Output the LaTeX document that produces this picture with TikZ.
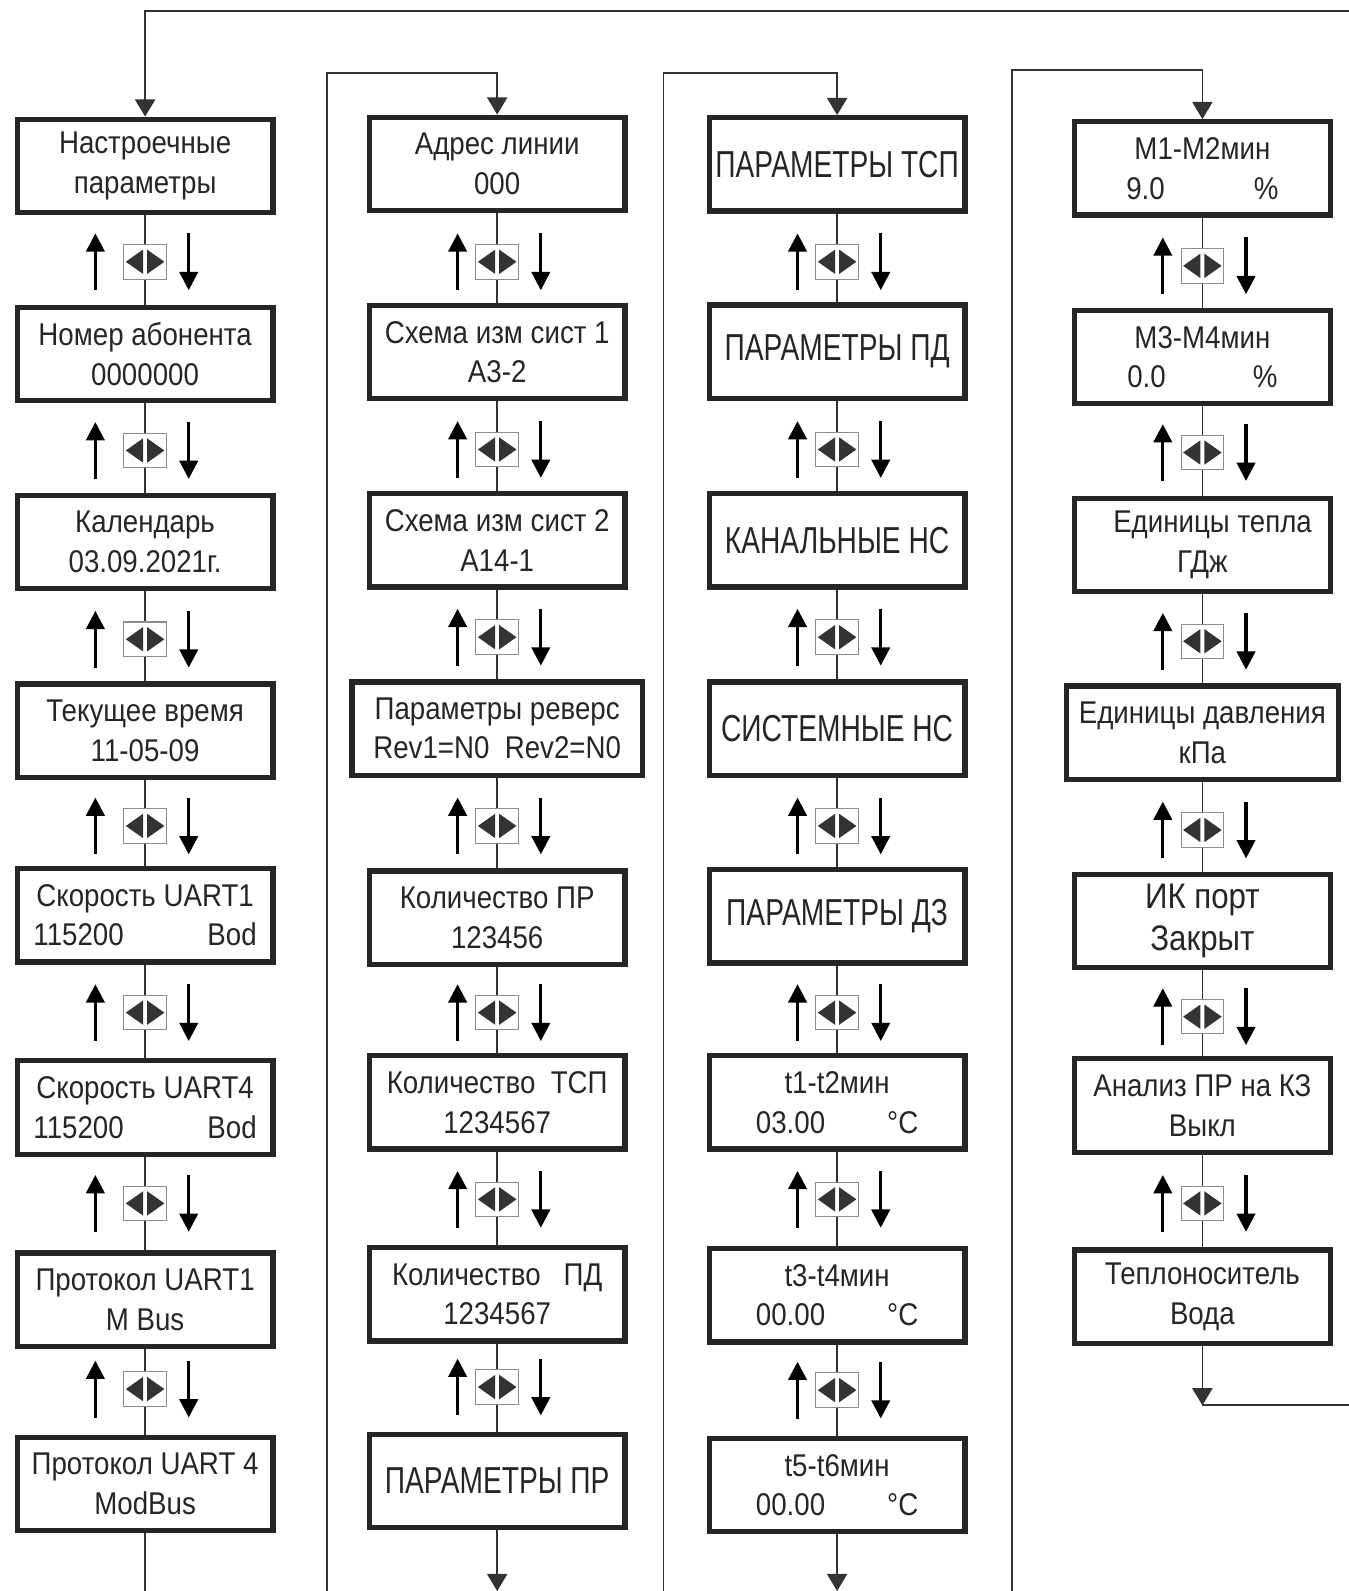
\documentclass[tikz,border=0pt]{standalone}
\usepackage{fontspec}
\setmainfont{Liberation Sans}[FakeStretch=0.88]
\newfontfamily\capsfont{Liberation Sans}[FakeStretch=0.75]
\usetikzlibrary{arrows.meta}

\begin{document}
\begin{tikzpicture}[x=0.5pt, y=-0.5pt,
  scr/.style={draw=black!85, line width=2.6pt, fill=white, text=black!85,
              minimum width=126pt, minimum height=46pt, inner sep=0pt,
              align=center, font=\fontsize{15.5}{19.5}\selectfont},
  caps/.style={scr, font=\capsfont\fontsize{18.5}{22}\selectfont},
  big/.style={scr, font=\fontsize{17.5}{21}\selectfont},
  link/.style={draw=black!80, line width=0.85pt},
  flow/.style={link, -{Triangle[length=8.5pt, width=10pt]}},
  updn/.style={line width=1.6pt, -{Triangle[length=9pt, width=9pt]}},
  keyframe/.style={draw=black!45, fill=white, line width=0.5pt},
  keytip/.style={fill=black!80},
  pics/keys/.style={code={
    \draw[keyframe] (-21,-17) rectangle (21,17);
    \fill[keytip] (-2,-12) -- (-2,12) -- (-19,0) -- cycle;
    \fill[keytip] (2,-12) -- (2,12) -- (19,0) -- cycle;
    \draw[updn] (#1,28) -- (#1,-28);
    \draw[updn] (43,-28) -- (43,28);
  }}]
\useasboundingbox (0,0) rectangle (1329,1568);

% column 1: setup parameters
\node[scr] (a1) at (143,163.5) {Настроечные\\параметры};
\node[scr] (a2) at (143,349)   {Номер абонента\\0000000};
\node[scr] (a3) at (143,534)   {Календарь\\03.09.2021г.};
\node[scr] (a4) at (143,720)   {Текущее время\\11-05-09};
\node[scr] (a5) at (143,902)   {Скорость UART1\\\makebox[110pt]{115200\hfill Bod}};
\node[scr] (a6) at (143,1091.5){Скорость UART4\\\makebox[110pt]{115200\hfill Bod}};
\node[scr] (a7) at (143,1281)  {Протокол UART1\\M Bus};
\node[scr] (a8) at (143,1462.5){Протокол UART 4\\ModBus};

% column 2: line and metering scheme
\node[scr] (b1) at (490,161.5) {Адрес линии\\000};
\node[scr] (b2) at (490,347)   {Схема изм сист 1\\A3-2};
\node[scr] (b3) at (490,532.5) {Схема изм сист 2\\A14-1};
\node[scr, minimum width=143pt] (b4) at (490,718) {Параметры реверс\\Rev1=N0\ \ Rev2=N0};
\node[scr] (b5) at (490,904.5) {Количество ПР\\123456};
\node[scr] (b6) at (490,1086.5){Количество\ \ ТСП\\1234567\hspace{14pt}};
\node[scr] (b7) at (490,1275.5){Количество\ \ \ ПД\\1234567\hspace{8pt}};
\node[caps] (b8) at (490,1459.5){ПАРАМЕТРЫ ПР};

% column 3: sensor groups and limits
\node[caps] (c1) at (825,162)   {ПАРАМЕТРЫ ТСП};
\node[caps] (c2) at (825,346.5) {ПАРАМЕТРЫ ПД};
\node[caps] (c3) at (825,532.5) {КАНАЛЬНЫЕ НС};
\node[caps] (c4) at (825,718)   {СИСТЕМНЫЕ НС};
\node[caps] (c5) at (825,903)   {ПАРАМЕТРЫ ДЗ};
\node[scr]  (c6) at (825,1086.5){t1-t2мин\\\makebox[80pt]{03.00\hfill °C}};
\node[scr]  (c7) at (825,1276.5){t3-t4мин\\\makebox[80pt]{00.00\hfill °C}};
\node[scr]  (c8) at (825,1463.5){t5-t6мин\\\makebox[80pt]{00.00\hfill °C}};

% column 4: units and options
\node[scr] (d1) at (1185,166)   {M1-M2мин\hspace{10pt}\\\makebox[75pt]{9.0\hfill\%}\hspace{9pt}};
\node[scr] (d2) at (1185,352)   {M3-M4мин\\\makebox[74pt]{0.0\hfill\%}};
\node[scr] (d3) at (1185,537)   {\hspace{10pt}Единицы тепла\\ГДж};
\node[scr, minimum width=134pt] (d4) at (1185,722) {Единицы давления\\кПа};
\node[big] (d5) at (1185,907.5) {ИК порт\\Закрыт};
\node[scr] (d6) at (1185,1089.5){Анализ ПР на КЗ\\Выкл};
\node[scr] (d7) at (1185,1278)  {Теплоноситель\\Вода};

% vertical chains
\draw[link] (a1) -- (a2) -- (a3) -- (a4) -- (a5) -- (a6) -- (a7) -- (a8);
\draw[link] (b1) -- (b2) -- (b3) -- (b4) -- (b5) -- (b6) -- (b7) -- (b8);
\draw[link] (c1) -- (c2) -- (c3) -- (c4) -- (c5) -- (c6) -- (c7) -- (c8);
\draw[link] (d1) -- (d2) -- (d3) -- (d4) -- (d5) -- (d6) -- (d7);

% key symbols between the screens
\pic at (143,258)  {keys=-49};
\pic at (143,444)  {keys=-49};
\pic at (143,630)  {keys=-49};
\pic at (143,814)  {keys=-49};
\pic at (143,998)  {keys=-49};
\pic at (143,1186) {keys=-49};
\pic at (143,1369) {keys=-49};
\pic at (490,258)  {keys=-39};
\pic at (490,443)  {keys=-39};
\pic at (490,628)  {keys=-39};
\pic at (490,814)  {keys=-39};
\pic at (490,998)  {keys=-39};
\pic at (490,1182) {keys=-39};
\pic at (490,1367) {keys=-39};
\pic at (825,258)  {keys=-39};
\pic at (825,443)  {keys=-39};
\pic at (825,628)  {keys=-39};
\pic at (825,814)  {keys=-39};
\pic at (825,998)  {keys=-39};
\pic at (825,1182) {keys=-39};
\pic at (825,1370) {keys=-39};
\pic at (1185,262)  {keys=-39};
\pic at (1185,446)  {keys=-39};
\pic at (1185,632)  {keys=-39};
\pic at (1185,818)  {keys=-39};
\pic at (1185,1002) {keys=-39};
\pic at (1185,1186) {keys=-39};

% loop-backs into the top of each column
\coordinate (r0) at (1329,11);
\coordinate (t1) at (143,11);
\draw[flow] (r0) -- (t1) -- (a1);
\coordinate (l2) at (322,1568);
\coordinate (t2) at (490,72);
\draw[flow] (l2) |- (t2) -- (b1);
\coordinate (l3) at (654,1568);
\coordinate (t3) at (825,72);
\draw[flow] (l3) |- (t3) -- (c1);
\coordinate (l4) at (997,1568);
\coordinate (t4) at (1185,69);
\draw[flow] (l4) |- (t4) -- (d1);

% exits at the bottom
\coordinate (e1) at (143,1568);
\coordinate (e2) at (490,1568);
\coordinate (e3) at (825,1568);
\coordinate (e4) at (1185,1385);
\coordinate (r4) at (1329,1385);
\draw[link] (a8) -- (e1);
\draw[flow] (b8) -- (e2);
\draw[flow] (c8) -- (e3);
\draw[flow] (d7) -- (e4);
\draw[link] (e4) -- (r4);
\end{tikzpicture}
\end{document}
